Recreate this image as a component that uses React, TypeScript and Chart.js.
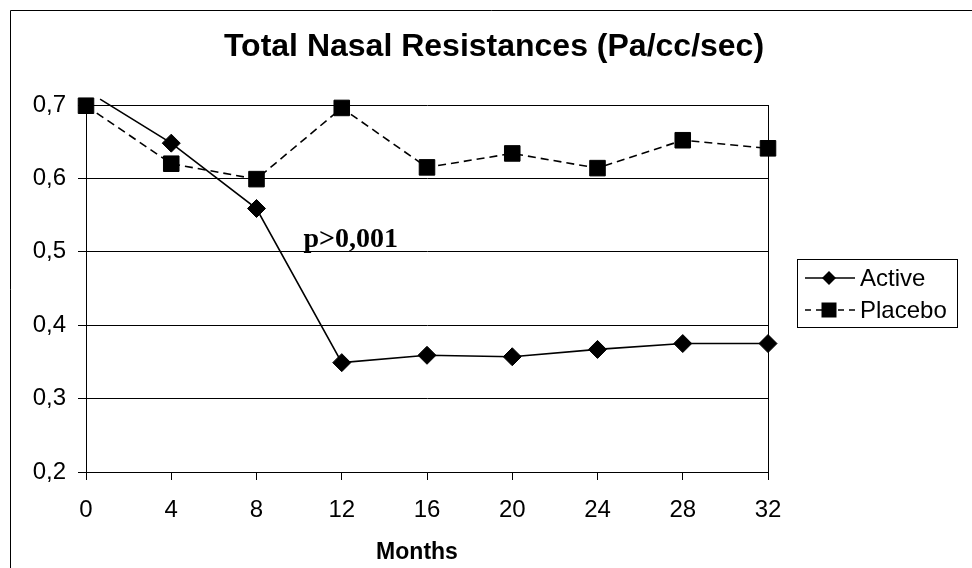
import React, { useEffect, useRef } from 'react';
import { Chart, registerables } from 'chart.js';

Chart.register(...registerables);

// ---- data ----
const activeMonths = [0.66, 4, 8, 12, 16, 20, 24, 28, 32];
const activeValues = [0.708, 0.648, 0.559, 0.349, 0.359, 0.357, 0.367, 0.375, 0.375];
const placeboMonths = [0, 4, 8, 12, 16, 20, 24, 28, 32];
const placeboValues = [0.699, 0.62, 0.599, 0.696, 0.615, 0.634, 0.614, 0.652, 0.641];
const activeRadii = [0, 9, 9, 9, 9, 9, 9, 9, 9];
const seriesNames = ['Active', 'Placebo'];
const titleText = 'Total Nasal Resistances (Pa/cc/sec)';
const xTitleText = 'Months';
const annotationText = 'p>0,001';
const annotationPos = { x: 10.2, y: 0.506 };

const SANS = '"Liberation Sans", Arial, sans-serif';
const SERIF = '"Liberation Serif", "Times New Roman", serif';

const decorPlugin = {
  id: 'decor',
  afterDraw(chart: any) {
    const ctx: CanvasRenderingContext2D = chart.ctx;
    const area = chart.chartArea;
    const xs = chart.scales.x;
    const ys = chart.scales.y;
    ctx.save();
    ctx.strokeStyle = '#000';
    ctx.fillStyle = '#000';
    ctx.lineWidth = 1;
    ctx.setLineDash([]);
    // outer frame
    ctx.beginPath();
    ctx.moveTo(10.5, 568);
    ctx.lineTo(10.5, 10.5);
    ctx.lineTo(972, 10.5);
    ctx.stroke();
    // right plot border
    ctx.beginPath();
    ctx.moveTo(Math.round(area.right) + 0.5, area.top);
    ctx.lineTo(Math.round(area.right) + 0.5, area.bottom);
    ctx.stroke();
    // title
    ctx.font = `bold 32px ${SANS}`;
    ctx.textAlign = 'center';
    ctx.textBaseline = 'middle';
    ctx.fillText(titleText, 494, 47);
    // x title
    ctx.font = `bold 23px ${SANS}`;
    ctx.fillText(xTitleText, 417, 553);
    // annotation
    ctx.font = `bold 28px ${SERIF}`;
    ctx.textAlign = 'left';
    ctx.textBaseline = 'alphabetic';
    ctx.fillText(annotationText, xs.getPixelForValue(annotationPos.x), ys.getPixelForValue(annotationPos.y));
    // legend
    const lx = 797.5, ly = 259.5, lw = 160, lh = 68;
    ctx.fillStyle = '#fff';
    ctx.fillRect(lx, ly, lw, lh);
    ctx.fillStyle = '#000';
    ctx.strokeRect(lx, ly, lw, lh);
    const rows = [278, 310];
    chart.data.datasets.forEach((ds: any, i: number) => {
      const cy = rows[i];
      ctx.lineWidth = ds.borderWidth;
      ctx.setLineDash(ds.borderDash ? [6, 5] : []);
      ctx.beginPath();
      ctx.moveTo(805, cy);
      ctx.lineTo(855, cy);
      ctx.stroke();
      ctx.setLineDash([]);
      const cx = 829;
      ctx.beginPath();
      if (ds.pointStyle === 'rectRot') {
        const r = 7;
        ctx.moveTo(cx, cy - r);
        ctx.lineTo(cx + r, cy);
        ctx.lineTo(cx, cy + r);
        ctx.lineTo(cx - r, cy);
        ctx.closePath();
      } else {
        const h = 7.5;
        ctx.rect(cx - h, cy - h, 2 * h, 2 * h);
      }
      ctx.fill();
      ctx.font = `24px ${SANS}`;
      ctx.textAlign = 'left';
      ctx.textBaseline = 'middle';
      ctx.fillText(seriesNames[i], 860, cy + 1);
    });
    ctx.restore();
  },
};

export default function App() {
  const ref = useRef<HTMLCanvasElement | null>(null);
  useEffect(() => {
    document.body.style.margin = '0';
    const canvas = ref.current;
    if (!canvas) return;
    const chart = new Chart(canvas, {
      type: 'line',
      data: {
        datasets: [
          {
            label: seriesNames[0],
            data: activeMonths.map((m, i) => ({ x: m, y: activeValues[i] })),
            borderColor: '#000',
            backgroundColor: '#000',
            borderWidth: 1.6,
            pointStyle: 'rectRot',
            pointRadius: activeRadii,
            pointBackgroundColor: '#000',
            pointBorderColor: '#000',
            pointBorderWidth: 1,
            tension: 0,
            clip: false as any,
          },
          {
            label: seriesNames[1],
            data: placeboMonths.map((m, i) => ({ x: m, y: placeboValues[i] })),
            borderColor: '#000',
            backgroundColor: '#000',
            borderWidth: 1.6,
            borderDash: [8, 5],
            pointStyle: 'rect',
            pointRadius: 11,
            pointBackgroundColor: '#000',
            pointBorderColor: '#000',
            pointBorderWidth: 1,
            tension: 0,
            clip: false as any,
          },
        ],
      },
      options: {
        responsive: false,
        animation: false,
        layout: { padding: { top: 105, right: 204, left: 0, bottom: 0 } },
        plugins: {
          legend: { display: false },
          tooltip: { enabled: false },
          title: { display: false },
        },
        scales: {
          x: {
            type: 'linear',
            min: 0,
            max: 32,
            ticks: {
              stepSize: 4,
              color: '#000',
              font: { family: SANS, size: 24 },
              padding: 16,
              maxRotation: 0,
            },
            grid: { drawOnChartArea: false, drawTicks: true, tickLength: 8, color: '#000', lineWidth: 1 },
            border: { display: true, color: '#000', width: 1 },
            afterFit: (s: any) => {
              s.height = 96;
            },
          },
          y: {
            type: 'linear',
            min: 0.2,
            max: 0.7,
            ticks: {
              stepSize: 0.1,
              color: '#000',
              font: { family: SANS, size: 24 },
              padding: 12,
              callback: (v: any) => Number(v).toFixed(1).replace('.', ','),
            },
            grid: { drawTicks: true, tickLength: 8, color: '#000', lineWidth: 1 },
            border: { display: true, color: '#000', width: 1 },
            afterFit: (s: any) => {
              s.width = 86;
            },
          },
        },
      },
      plugins: [decorPlugin],
    });
    return () => chart.destroy();
  }, []);
  return <canvas ref={ref} width={972} height={568} style={{ display: 'block' }} />;
}
